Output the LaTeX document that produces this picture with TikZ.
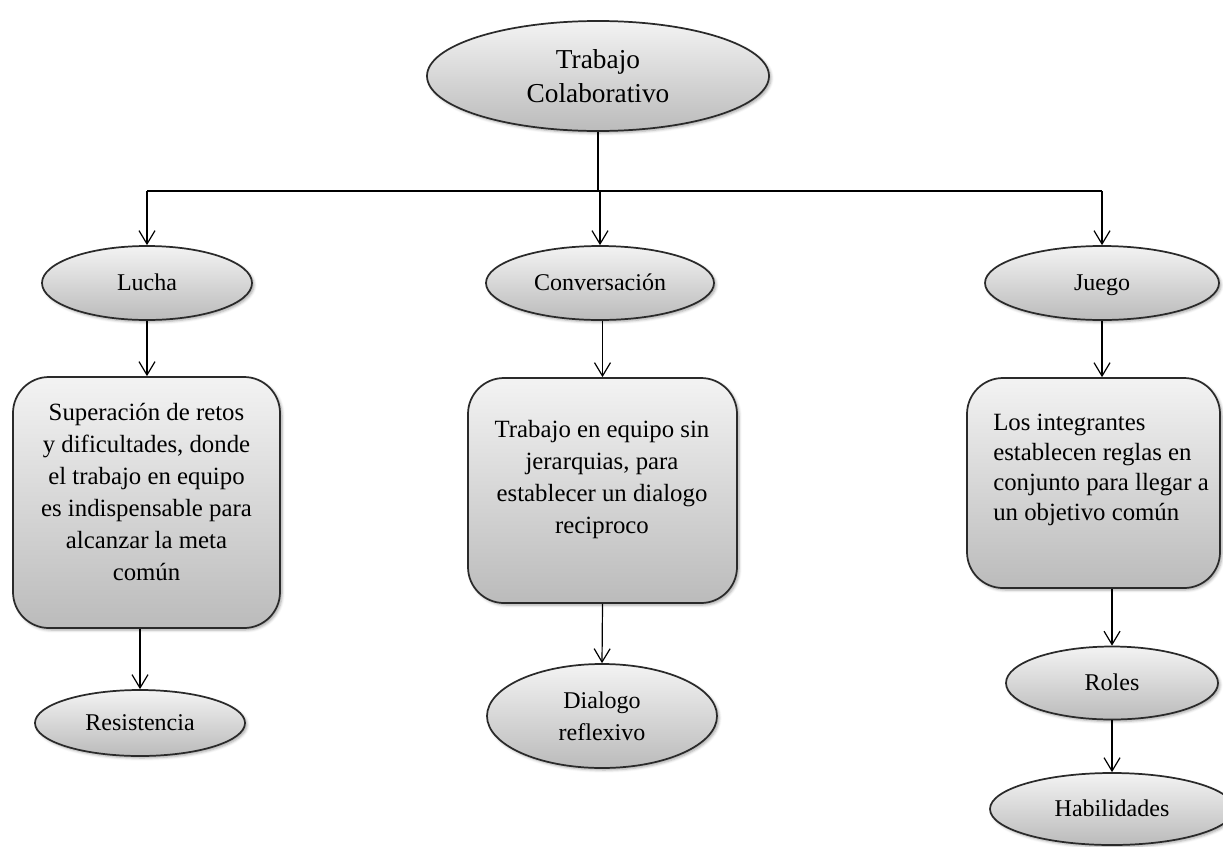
\documentclass[tikz,border=0pt]{standalone}
\usepackage{fontspec}
\setmainfont{Liberation Serif}
\usetikzlibrary{shapes.geometric,arrows.meta,shadows.blur,calc}
\definecolor{shadetop}{HTML}{F3F3F3}
\definecolor{shadebot}{HTML}{BBBBBB}
\definecolor{outline}{HTML}{2A2A2A}
\begin{document}
\begin{tikzpicture}[x=0.75pt,y=-0.75pt,
  sz/.style 2 args={minimum width=#1*0.75pt,minimum height=#2*0.75pt},
  shaded/.style={draw=outline,line width=1.3pt,top color=shadetop,bottom color=shadebot,
    blur shadow={shadow xshift=1.5pt,shadow yshift=-1.5pt,shadow blur radius=2pt,shadow opacity=35}},
  oval/.style={shaded,ellipse,inner sep=0pt,align=center,font=\fontsize{18}{24}\selectfont},
  oneline/.style={text height=15pt,text depth=4pt},
  card/.style={shaded,rectangle,rounded corners=27pt,inner sep=0pt},
  cardtext/.style={inner sep=0pt,font=\fontsize{18.6}{24}\selectfont},
  link/.style={line width=0.9pt,draw=black},
  arr/.style={link,-{Straight Barb[length=10pt,width=12pt]}}]

\useasboundingbox (0,0) rectangle (1223,846);

% root
\node[oval,sz={342}{110},font=\fontsize{20.5}{25}\selectfont] (top) at (598,76) {Trabajo\\Colaborativo};

% first level
\node[oval,oneline,sz={210}{74}] (lucha) at (147,283) {Lucha};
\node[oval,oneline,sz={228}{74}] (conv) at (600,283) {Conversación};
\node[oval,oneline,sz={234}{74}] (juego) at (1102,283) {Juego};

% description cards
\node[card,sz={267}{251}] (b1) at (146.5,502.5) {};
\node[card,sz={269}{225}] (b2) at (602.5,490.5) {};
\node[card,sz={253}{210}] (b3) at (1093.5,483) {};

\node[cardtext,align=center] (t1) at (146.5,492) {Superación de retos\\y dificultades, donde\\el trabajo en equipo\\es indispensable para\\alcanzar la meta\\común};
\node[cardtext,align=center] (t2) at (602,480) {Trabajo en equipo sin\\jerarquias, para\\establecer un dialogo\\reciproco};
\node[cardtext,align=left,anchor=west,font=\fontsize{18.6}{22.5}\selectfont] (t3) at (993,470) {Los integrantes\\establecen reglas en\\conjunto para llegar a\\un objetivo común};

% leaves
\node[oval,oneline,sz={210}{66}] (resist) at (140,723) {Resistencia};
\node[oval,sz={230}{104}] (dial) at (602,716) {Dialogo\\reflexivo};
\node[oval,oneline,sz={212}{73}] (roles) at (1112,683) {Roles};
\node[oval,oneline,sz={244}{72}] (habil) at (1112,809) {Habilidades};

% connectors
\coordinate (bar) at (598,191);
\draw[link] (top.south) -- (bar);
\draw[link] (bar -| lucha.north) -- (bar -| juego.north);
\draw[arr] (bar -| lucha.north) -- (lucha.north);
\draw[arr] (bar -| conv.north) -- (conv.north);
\draw[arr] (bar -| juego.north) -- (juego.north);

\draw[arr] (lucha.south) -- (lucha.south |- b1.north);
\draw[arr] (b2.north |- conv.south) -- (b2.north);
\draw[arr] (juego.south) -- (juego.south |- b3.north);

\draw[arr] (resist.north |- b1.south) -- (resist.north);
\draw[arr] (b2.south) -- (dial.north);
\draw[arr] (roles.north |- b3.south) -- (roles.north);
\draw[arr] (roles.south) -- (habil.north);
\end{tikzpicture}
\end{document}
